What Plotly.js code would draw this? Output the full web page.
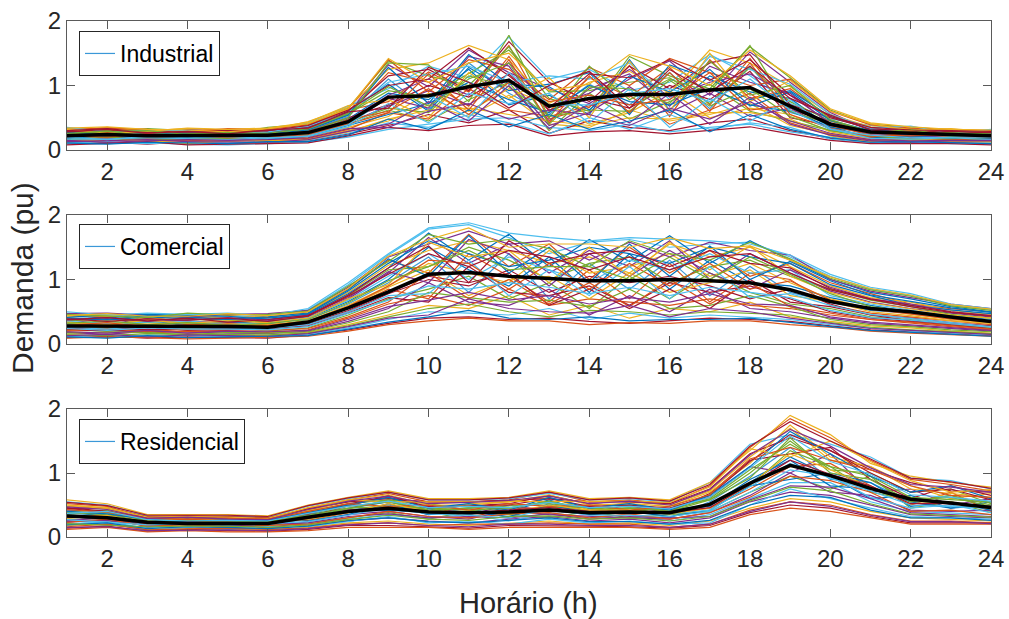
<!DOCTYPE html>
<html><head><meta charset="utf-8">
<script src="https://cdn.plot.ly/plotly-3.0.1.min.js"></script>
<style>html,body{margin:0;padding:0;background:#fff}#chart{width:1009px;height:619px}</style>
</head><body><div id="chart"></div>
<script>
const hours = [1,2,3,4,5,6,7,8,9,10,11,12,13,14,15,16,17,18,19,20,21,22,23,24];
const xTicks = [2,4,6,8,10,12,14,16,18,20,22,24];
const yTicks = [0,1,2];
const panelNames = ['Industrial','Comercial','Residencial'];

const indMean = [0.22,0.24,0.22,0.22,0.22,0.23,0.27,0.44,0.82,0.84,0.98,1.08,0.68,0.80,0.86,0.86,0.93,0.97,0.68,0.40,0.28,0.26,0.23,0.22];
const comMean = [0.28,0.28,0.27,0.27,0.27,0.26,0.34,0.56,0.81,1.08,1.11,1.05,1.02,0.98,0.98,1.00,0.98,0.95,0.84,0.66,0.55,0.50,0.42,0.35];
const resMean = [0.33,0.30,0.23,0.21,0.21,0.21,0.31,0.40,0.45,0.39,0.38,0.39,0.42,0.38,0.39,0.38,0.51,0.84,1.12,0.96,0.76,0.59,0.53,0.46];

const indLoads = [
[0.21,0.25,0.19,0.22,0.18,0.24,0.30,0.52,1.10,0.62,1.35,0.88,0.55,1.02,0.70,1.20,0.64,1.30,0.58,0.42,0.22,0.28,0.19,0.24],
[0.30,0.27,0.31,0.25,0.29,0.26,0.38,0.62,0.75,1.21,0.90,1.62,0.48,0.66,1.31,0.52,1.40,0.80,0.95,0.50,0.35,0.24,0.29,0.21],
[0.12,0.18,0.14,0.11,0.16,0.13,0.17,0.30,0.45,0.70,0.52,0.85,0.40,0.35,0.62,0.45,0.55,0.72,0.38,0.25,0.16,0.13,0.15,0.12],
[0.26,0.33,0.24,0.29,0.22,0.30,0.35,0.58,1.32,0.98,1.55,1.20,0.95,0.72,1.10,1.38,0.85,1.52,1.05,0.58,0.30,0.33,0.27,0.29],
[0.17,0.14,0.20,0.16,0.19,0.18,0.22,0.40,0.62,0.45,0.78,1.05,0.30,0.88,0.48,0.75,1.02,0.60,0.45,0.30,0.20,0.18,0.16,0.17],
[0.33,0.30,0.28,0.32,0.27,0.33,0.42,0.68,0.95,1.30,1.12,1.75,1.10,1.25,0.92,1.05,1.48,1.15,0.72,0.48,0.38,0.31,0.30,0.28],
[0.10,0.12,0.09,0.13,0.10,0.11,0.14,0.25,0.38,0.55,0.42,0.62,0.26,0.45,0.35,0.30,0.42,0.48,0.30,0.18,0.12,0.11,0.12,0.10],
[0.24,0.21,0.26,0.20,0.24,0.21,0.26,0.48,0.88,0.78,1.25,0.70,0.85,0.55,1.40,0.62,1.15,0.90,0.80,0.35,0.27,0.22,0.24,0.23],
[0.28,0.35,0.29,0.27,0.31,0.28,0.32,0.55,1.20,1.05,0.68,1.45,0.60,1.12,0.82,1.28,0.70,1.42,0.62,0.45,0.25,0.30,0.22,0.27],
[0.14,0.16,0.12,0.15,0.13,0.16,0.20,0.35,0.52,0.88,0.60,0.95,0.70,0.40,0.58,0.92,0.50,0.65,0.55,0.28,0.18,0.16,0.14,0.15],
[0.19,0.23,0.21,0.18,0.21,0.20,0.28,0.45,0.80,0.65,1.45,1.30,0.45,0.95,1.18,0.68,1.30,1.05,0.88,0.40,0.24,0.20,0.21,0.19],
[0.31,0.28,0.33,0.30,0.25,0.35,0.40,0.65,1.38,1.15,1.00,1.60,0.80,0.60,1.45,1.15,0.95,1.60,1.12,0.62,0.40,0.35,0.31,0.30],
[0.09,0.10,0.11,0.09,0.08,0.10,0.12,0.20,0.32,0.40,0.48,0.50,0.35,0.30,0.40,0.28,0.35,0.40,0.28,0.20,0.14,0.12,0.11,0.09],
[0.23,0.29,0.22,0.24,0.26,0.23,0.29,0.50,0.70,1.00,0.82,1.18,0.62,0.80,0.65,1.00,0.78,1.22,0.50,0.38,0.28,0.25,0.26,0.24],
[0.27,0.20,0.25,0.28,0.20,0.27,0.33,0.60,1.02,0.60,1.28,0.92,1.02,1.20,0.55,1.32,1.10,0.78,0.92,0.52,0.32,0.27,0.20,0.26],
[0.15,0.19,0.17,0.14,0.17,0.14,0.18,0.32,0.58,0.48,0.95,0.62,0.52,0.68,0.85,0.40,0.62,0.88,0.42,0.24,0.15,0.18,0.17,0.14],
[0.34,0.32,0.30,0.33,0.31,0.31,0.44,0.66,1.25,1.35,1.62,1.40,0.72,1.05,1.22,0.88,1.55,1.35,0.98,0.55,0.36,0.33,0.29,0.31],
[0.20,0.17,0.23,0.21,0.15,0.19,0.24,0.42,0.68,0.92,0.70,1.10,0.38,0.58,0.98,0.58,0.88,0.52,0.65,0.32,0.21,0.19,0.22,0.20],
[0.25,0.26,0.27,0.23,0.28,0.25,0.31,0.56,0.92,0.82,1.18,1.55,0.90,0.92,1.05,1.12,0.72,1.28,0.75,0.45,0.29,0.26,0.25,0.25],
[0.11,0.13,0.10,0.12,0.11,0.12,0.15,0.26,0.42,0.35,0.55,0.42,0.25,0.50,0.32,0.55,0.32,0.42,0.35,0.17,0.11,0.14,0.10,0.11],
[0.29,0.31,0.26,0.31,0.30,0.29,0.36,0.60,1.15,1.25,0.92,1.68,1.05,0.75,1.30,0.95,1.35,1.48,0.70,0.50,0.33,0.29,0.28,0.27],
[0.18,0.22,0.18,0.19,0.20,0.17,0.21,0.38,0.55,0.72,1.05,0.78,0.58,1.00,0.75,0.70,0.95,0.70,0.60,0.36,0.19,0.21,0.18,0.18],
[0.32,0.34,0.32,0.28,0.33,0.32,0.39,0.63,1.40,0.90,1.40,1.25,0.78,1.28,1.00,1.42,1.20,1.00,1.10,0.60,0.39,0.34,0.32,0.30],
[0.13,0.15,0.15,0.10,0.14,0.15,0.16,0.28,0.48,0.62,0.65,0.55,0.45,0.38,0.50,0.48,0.58,0.58,0.48,0.22,0.13,0.15,0.13,0.13],
[0.22,0.24,0.20,0.26,0.23,0.22,0.27,0.46,0.85,1.10,0.85,1.35,0.68,0.88,1.25,0.82,1.05,1.18,0.85,0.42,0.26,0.23,0.23,0.22],
[0.16,0.20,0.16,0.17,0.18,0.21,0.25,0.43,0.65,0.58,1.15,0.98,0.52,0.62,0.60,1.08,0.68,0.95,0.52,0.30,0.22,0.17,0.19,0.16],
[0.35,0.28,0.31,0.30,0.26,0.28,0.37,0.58,1.05,1.18,1.30,1.05,1.15,1.10,1.35,0.78,1.45,1.25,1.02,0.55,0.34,0.37,0.26,0.32],
[0.08,0.11,0.13,0.08,0.09,0.09,0.11,0.22,0.35,0.30,0.38,0.40,0.22,0.28,0.30,0.25,0.30,0.36,0.25,0.15,0.10,0.10,0.10,0.08],
[0.27,0.23,0.24,0.26,0.24,0.25,0.31,0.54,1.28,0.72,1.48,1.02,0.98,0.62,1.15,0.90,1.25,0.68,0.90,0.46,0.30,0.24,0.25,0.26],
[0.19,0.27,0.18,0.22,0.19,0.19,0.23,0.41,0.58,1.18,0.62,1.40,0.42,1.15,0.58,1.20,0.60,1.35,0.55,0.34,0.20,0.27,0.20,0.19],
[0.32,0.26,0.29,0.34,0.32,0.34,0.43,0.69,0.78,0.50,1.20,0.80,1.12,0.50,1.38,0.60,1.50,0.75,1.08,0.60,0.41,0.30,0.33,0.28],
[0.13,0.14,0.16,0.13,0.12,0.12,0.16,0.29,0.40,0.75,0.45,1.00,0.33,0.72,0.42,0.88,0.40,0.82,0.40,0.23,0.14,0.12,0.14,0.14],
[0.24,0.30,0.20,0.25,0.28,0.24,0.28,0.50,1.35,1.32,0.75,1.78,0.50,1.30,0.78,1.10,0.90,1.62,0.60,0.40,0.26,0.32,0.21,0.23],
[0.17,0.17,0.19,0.17,0.16,0.19,0.21,0.36,0.72,0.42,0.88,0.72,0.88,0.42,0.95,0.35,0.80,0.45,0.78,0.33,0.18,0.17,0.19,0.16],
[0.30,0.33,0.27,0.28,0.30,0.30,0.38,0.62,1.00,1.10,1.58,1.15,0.65,1.18,1.12,1.40,1.08,1.40,0.85,0.52,0.35,0.31,0.30,0.29],
[0.11,0.09,0.12,0.11,0.10,0.13,0.13,0.23,0.48,0.32,0.62,0.36,0.55,0.32,0.45,0.62,0.28,0.55,0.32,0.19,0.12,0.13,0.11,0.10],
[0.22,0.20,0.25,0.21,0.22,0.21,0.26,0.47,0.60,0.95,0.55,1.05,0.75,0.85,0.70,0.78,1.20,0.62,0.70,0.38,0.23,0.22,0.24,0.21],
[0.34,0.36,0.32,0.31,0.28,0.33,0.41,0.64,1.42,1.05,1.35,1.50,0.92,1.02,1.48,1.30,1.00,1.55,1.15,0.64,0.42,0.36,0.32,0.31],
[0.15,0.12,0.14,0.16,0.15,0.16,0.19,0.33,0.35,0.60,0.72,0.48,0.62,0.55,0.38,0.65,0.48,0.75,0.45,0.26,0.16,0.14,0.15,0.15],
[0.26,0.29,0.30,0.24,0.27,0.26,0.33,0.57,0.98,0.68,1.10,1.35,0.40,0.98,0.95,0.72,1.38,0.85,1.00,0.47,0.28,0.28,0.27,0.25],
[0.20,0.16,0.21,0.19,0.21,0.18,0.22,0.39,0.82,0.85,0.50,1.20,0.70,0.70,0.88,0.95,0.75,1.10,0.62,0.32,0.23,0.19,0.20,0.20],
[0.28,0.32,0.26,0.29,0.25,0.31,0.34,0.59,0.65,1.28,1.05,0.65,1.00,1.22,0.65,1.25,0.90,1.30,0.80,0.54,0.31,0.26,0.29,0.27]
];

const comLoads = [
[0.30,0.35,0.25,0.32,0.28,0.26,0.38,0.62,0.95,1.35,0.80,1.40,0.70,1.25,0.85,1.30,0.75,1.20,0.80,0.65,0.52,0.48,0.40,0.35],
[0.45,0.42,0.47,0.40,0.44,0.41,0.50,0.85,1.30,1.10,1.70,1.20,1.55,1.00,1.50,1.10,1.45,1.05,1.25,0.95,0.78,0.62,0.55,0.50],
[0.15,0.18,0.12,0.16,0.14,0.13,0.18,0.30,0.45,0.60,0.55,0.75,0.45,0.60,0.40,0.55,0.50,0.65,0.42,0.35,0.28,0.25,0.20,0.17],
[0.38,0.30,0.40,0.35,0.33,0.36,0.42,0.70,1.10,1.65,1.25,1.55,1.10,1.45,1.20,1.60,1.00,1.40,1.10,0.82,0.65,0.55,0.48,0.42],
[0.22,0.25,0.20,0.24,0.26,0.20,0.25,0.45,0.70,0.85,1.05,0.70,0.95,0.55,1.05,0.70,1.10,0.80,0.62,0.55,0.42,0.38,0.30,0.25],
[0.48,0.46,0.43,0.47,0.42,0.45,0.53,0.92,1.38,1.78,1.85,1.65,1.40,1.58,1.62,1.50,1.55,1.58,1.35,1.05,0.85,0.75,0.60,0.53],
[0.10,0.12,0.09,0.11,0.10,0.09,0.14,0.22,0.32,0.40,0.42,0.38,0.40,0.35,0.32,0.36,0.40,0.38,0.35,0.28,0.22,0.19,0.16,0.13],
[0.33,0.28,0.36,0.30,0.35,0.31,0.40,0.66,1.00,1.50,1.15,0.90,1.35,0.80,1.40,0.85,1.30,0.95,0.90,0.72,0.60,0.50,0.44,0.38],
[0.27,0.31,0.29,0.27,0.30,0.28,0.34,0.55,0.85,0.70,1.40,1.05,0.65,1.15,0.70,1.25,0.65,1.10,1.00,0.60,0.48,0.42,0.35,0.30],
[0.42,0.44,0.38,0.44,0.40,0.43,0.48,0.80,1.22,1.45,1.60,1.45,1.25,1.35,1.10,1.55,1.35,1.50,1.20,0.90,0.72,0.65,0.52,0.46],
[0.18,0.15,0.20,0.18,0.17,0.16,0.20,0.35,0.55,0.95,0.65,0.60,0.85,0.45,0.75,0.50,0.85,0.55,0.50,0.40,0.32,0.28,0.24,0.20],
[0.36,0.39,0.33,0.38,0.37,0.34,0.44,0.75,1.15,1.20,1.50,1.30,1.00,1.25,1.35,0.95,1.20,1.30,1.05,0.85,0.68,0.58,0.46,0.40],
[0.12,0.10,0.14,0.13,0.12,0.11,0.15,0.25,0.38,0.50,0.48,0.45,0.55,0.38,0.48,0.40,0.45,0.42,0.38,0.30,0.25,0.20,0.17,0.14],
[0.25,0.22,0.27,0.21,0.24,0.23,0.30,0.50,0.78,1.00,0.90,1.15,0.80,1.05,0.95,1.05,0.90,0.70,0.85,0.62,0.45,0.40,0.33,0.28],
[0.40,0.37,0.42,0.39,0.38,0.40,0.46,0.78,1.18,1.72,1.30,1.70,1.20,1.62,1.28,1.68,1.25,1.60,1.30,1.00,0.80,0.70,0.58,0.50],
[0.20,0.22,0.17,0.20,0.19,0.18,0.22,0.40,0.62,0.75,0.60,0.85,0.60,0.70,0.65,0.60,0.70,0.60,0.55,0.45,0.38,0.32,0.27,0.22],
[0.31,0.34,0.31,0.34,0.32,0.30,0.36,0.60,0.90,1.25,1.10,0.95,1.45,1.10,1.20,1.40,1.05,1.25,0.95,0.70,0.55,0.46,0.38,0.33],
[0.47,0.48,0.45,0.42,0.46,0.47,0.52,0.88,1.35,1.55,1.75,1.55,1.60,1.30,1.58,1.35,1.58,1.45,1.38,1.00,0.82,0.72,0.62,0.55],
[0.14,0.13,0.16,0.15,0.15,0.14,0.17,0.28,0.42,0.55,0.62,0.50,0.42,0.52,0.50,0.45,0.50,0.48,0.45,0.33,0.26,0.22,0.19,0.16],
[0.35,0.32,0.34,0.36,0.30,0.33,0.41,0.68,1.05,1.40,1.00,1.35,1.15,0.95,1.30,1.15,1.40,1.10,1.15,0.75,0.62,0.52,0.43,0.37],
[0.23,0.20,0.23,0.22,0.21,0.24,0.28,0.48,0.72,0.65,1.20,0.80,0.75,0.90,0.60,0.95,0.80,0.90,0.70,0.50,0.40,0.35,0.29,0.24],
[0.44,0.40,0.46,0.45,0.43,0.38,0.47,0.82,1.25,1.60,1.40,1.20,1.30,1.50,1.40,1.25,1.50,1.35,1.25,0.92,0.75,0.60,0.53,0.47],
[0.09,0.11,0.10,0.08,0.09,0.10,0.12,0.20,0.30,0.36,0.40,0.36,0.36,0.30,0.33,0.32,0.36,0.36,0.30,0.26,0.20,0.17,0.15,0.12],
[0.28,0.26,0.30,0.29,0.27,0.29,0.33,0.57,0.88,1.15,0.75,1.00,1.05,0.70,1.10,0.80,0.95,1.15,0.75,0.66,0.50,0.44,0.36,0.32],
[0.37,0.41,0.35,0.37,0.41,0.37,0.45,0.72,1.12,0.95,1.62,1.40,0.90,1.40,1.05,1.45,1.10,0.85,1.15,0.88,0.70,0.62,0.50,0.44],
[0.17,0.19,0.18,0.14,0.18,0.17,0.19,0.33,0.50,0.80,0.72,0.65,0.68,0.58,0.85,0.55,0.60,0.75,0.58,0.38,0.30,0.27,0.22,0.19],
[0.50,0.45,0.48,0.46,0.48,0.44,0.55,0.95,1.40,1.80,1.88,1.72,1.65,1.60,1.65,1.62,1.60,1.55,1.38,1.08,0.88,0.78,0.62,0.55],
[0.26,0.29,0.22,0.26,0.23,0.27,0.31,0.52,0.80,1.05,0.95,1.10,0.60,0.85,0.55,0.85,0.55,1.00,0.65,0.58,0.45,0.36,0.31,0.27],
[0.41,0.38,0.44,0.41,0.39,0.42,0.48,0.84,1.32,1.05,1.68,1.10,1.50,0.95,1.55,1.05,1.52,1.00,1.28,0.98,0.76,0.66,0.56,0.49],
[0.21,0.24,0.19,0.23,0.22,0.21,0.24,0.42,0.65,1.10,0.70,1.00,0.62,0.95,0.58,1.00,0.62,0.95,0.58,0.48,0.38,0.34,0.28,0.23],
[0.34,0.30,0.37,0.32,0.36,0.33,0.40,0.70,0.92,1.58,1.35,1.45,0.95,1.50,1.05,1.58,1.15,1.52,1.05,0.80,0.64,0.54,0.45,0.40],
[0.13,0.15,0.11,0.14,0.13,0.12,0.16,0.27,0.40,0.45,0.70,0.55,0.50,0.48,0.60,0.42,0.55,0.50,0.40,0.32,0.24,0.21,0.18,0.15],
[0.46,0.43,0.41,0.48,0.45,0.46,0.51,0.90,1.28,1.70,1.55,1.62,1.48,1.20,1.60,1.40,1.30,1.58,1.32,1.02,0.84,0.74,0.59,0.52],
[0.26,0.23,0.28,0.25,0.25,0.24,0.30,0.50,0.75,0.78,1.30,0.75,1.15,0.75,1.20,0.70,1.20,0.72,0.78,0.60,0.46,0.40,0.33,0.27],
[0.38,0.41,0.36,0.40,0.34,0.38,0.44,0.76,1.18,1.52,0.95,1.60,1.25,1.40,1.45,1.20,1.45,1.25,1.18,0.86,0.70,0.60,0.50,0.44],
[0.11,0.09,0.13,0.10,0.11,0.12,0.13,0.23,0.34,0.42,0.52,0.40,0.38,0.42,0.36,0.38,0.38,0.40,0.33,0.27,0.21,0.18,0.14,0.12],
[0.29,0.33,0.26,0.30,0.31,0.29,0.35,0.58,0.90,1.30,1.25,0.85,1.25,0.85,1.25,0.90,1.25,0.85,0.98,0.68,0.54,0.47,0.39,0.34],
[0.44,0.47,0.43,0.43,0.47,0.44,0.50,0.86,1.36,1.62,1.80,1.50,1.55,1.55,1.50,1.65,1.48,1.52,1.30,1.04,0.86,0.76,0.61,0.54],
[0.19,0.17,0.21,0.17,0.20,0.19,0.21,0.38,0.58,0.68,0.80,0.68,0.75,0.62,0.72,0.65,0.78,0.62,0.60,0.42,0.34,0.30,0.25,0.21],
[0.32,0.36,0.30,0.33,0.29,0.32,0.38,0.64,0.98,1.20,1.45,1.15,1.20,1.20,1.00,1.35,1.00,1.35,1.08,0.78,0.58,0.50,0.42,0.36],
[0.24,0.21,0.25,0.23,0.23,0.22,0.27,0.47,0.68,0.90,0.85,0.95,0.88,0.78,0.88,0.75,0.88,0.80,0.72,0.52,0.41,0.37,0.31,0.26],
[0.39,0.35,0.39,0.37,0.40,0.35,0.43,0.74,1.08,1.40,1.20,1.45,1.35,1.15,1.35,1.15,1.35,1.40,1.10,0.84,0.69,0.58,0.49,0.43]
];

const resLoads = [
[0.35,0.30,0.20,0.25,0.18,0.22,0.30,0.42,0.50,0.35,0.45,0.30,0.52,0.35,0.45,0.30,0.55,0.95,1.40,0.90,0.85,0.55,0.65,0.45],
[0.52,0.48,0.30,0.32,0.30,0.28,0.45,0.58,0.68,0.55,0.55,0.58,0.70,0.55,0.58,0.52,0.80,1.40,1.85,1.55,1.20,0.90,0.82,0.72],
[0.18,0.20,0.12,0.14,0.12,0.11,0.15,0.22,0.25,0.20,0.18,0.22,0.25,0.20,0.22,0.18,0.25,0.45,0.60,0.55,0.40,0.30,0.28,0.25],
[0.42,0.40,0.25,0.22,0.28,0.25,0.38,0.50,0.40,0.48,0.35,0.50,0.40,0.48,0.35,0.45,0.62,1.10,1.00,1.30,0.70,0.75,0.50,0.60],
[0.28,0.25,0.18,0.20,0.15,0.18,0.22,0.30,0.38,0.28,0.40,0.35,0.30,0.40,0.30,0.35,0.40,0.70,0.95,0.75,0.95,0.45,0.55,0.38],
[0.55,0.50,0.33,0.30,0.33,0.31,0.48,0.60,0.70,0.58,0.58,0.60,0.68,0.58,0.60,0.55,0.85,1.45,1.60,1.45,1.25,0.92,0.88,0.75],
[0.14,0.17,0.09,0.12,0.10,0.09,0.12,0.18,0.18,0.16,0.14,0.18,0.18,0.17,0.16,0.14,0.18,0.38,0.50,0.45,0.32,0.22,0.22,0.22],
[0.38,0.33,0.22,0.28,0.22,0.20,0.35,0.45,0.55,0.42,0.50,0.40,0.58,0.38,0.50,0.42,0.50,0.85,1.25,0.95,0.60,0.65,0.45,0.55],
[0.30,0.35,0.28,0.18,0.25,0.26,0.26,0.38,0.45,0.50,0.30,0.45,0.45,0.50,0.42,0.38,0.45,0.75,1.10,1.15,0.80,0.50,0.70,0.40],
[0.48,0.45,0.28,0.30,0.26,0.30,0.42,0.55,0.62,0.40,0.52,0.55,0.62,0.42,0.55,0.50,0.72,1.25,1.70,1.20,1.10,0.80,0.60,0.68],
[0.22,0.18,0.15,0.16,0.14,0.14,0.18,0.25,0.30,0.25,0.22,0.28,0.32,0.25,0.28,0.22,0.30,0.55,0.70,0.65,0.50,0.35,0.32,0.30],
[0.40,0.42,0.24,0.26,0.24,0.24,0.40,0.52,0.58,0.52,0.42,0.45,0.55,0.45,0.40,0.48,0.58,1.00,1.50,1.05,1.00,0.70,0.75,0.52],
[0.25,0.22,0.10,0.15,0.20,0.16,0.20,0.28,0.35,0.30,0.35,0.25,0.38,0.30,0.35,0.25,0.35,0.60,0.85,0.85,0.55,0.40,0.38,0.35],
[0.45,0.38,0.30,0.24,0.30,0.29,0.32,0.48,0.65,0.45,0.48,0.52,0.65,0.52,0.48,0.40,0.68,1.20,1.30,1.40,0.90,0.60,0.80,0.65],
[0.33,0.28,0.20,0.28,0.17,0.20,0.28,0.40,0.42,0.38,0.38,0.38,0.42,0.35,0.38,0.40,0.48,0.90,1.20,0.80,0.75,0.55,0.45,0.50],
[0.12,0.15,0.08,0.10,0.08,0.08,0.10,0.15,0.15,0.15,0.12,0.15,0.15,0.15,0.15,0.12,0.15,0.35,0.45,0.40,0.30,0.20,0.20,0.20],
[0.58,0.52,0.35,0.35,0.35,0.33,0.50,0.62,0.72,0.60,0.60,0.62,0.72,0.60,0.62,0.58,0.85,1.35,1.90,1.60,1.15,0.95,0.85,0.78],
[0.26,0.30,0.16,0.22,0.20,0.14,0.24,0.35,0.40,0.32,0.28,0.42,0.35,0.32,0.30,0.28,0.38,0.65,1.00,0.70,0.65,0.42,0.40,0.42],
[0.36,0.38,0.26,0.20,0.28,0.22,0.34,0.45,0.48,0.45,0.42,0.35,0.48,0.42,0.45,0.35,0.52,0.80,1.35,1.10,0.70,0.58,0.62,0.48],
[0.20,0.24,0.14,0.18,0.12,0.17,0.16,0.24,0.32,0.22,0.25,0.20,0.28,0.22,0.25,0.20,0.22,0.50,0.75,0.60,0.45,0.32,0.30,0.28],
[0.44,0.46,0.32,0.33,0.32,0.30,0.44,0.55,0.60,0.55,0.55,0.58,0.60,0.55,0.55,0.52,0.75,1.30,1.55,1.35,1.05,0.85,0.72,0.70],
[0.32,0.27,0.22,0.24,0.22,0.27,0.25,0.35,0.52,0.35,0.40,0.32,0.50,0.38,0.40,0.32,0.42,0.80,0.90,1.00,0.85,0.48,0.55,0.42],
[0.16,0.20,0.11,0.13,0.14,0.12,0.14,0.20,0.22,0.18,0.20,0.20,0.22,0.20,0.20,0.15,0.20,0.42,0.55,0.50,0.35,0.25,0.25,0.22],
[0.50,0.44,0.27,0.28,0.27,0.26,0.40,0.58,0.66,0.50,0.50,0.55,0.66,0.50,0.52,0.48,0.70,1.15,1.75,1.25,1.10,0.75,0.68,0.62],
[0.24,0.26,0.18,0.20,0.18,0.20,0.22,0.32,0.36,0.30,0.32,0.30,0.36,0.28,0.32,0.30,0.32,0.58,0.80,0.78,0.60,0.38,0.35,0.32],
[0.38,0.35,0.24,0.26,0.25,0.23,0.36,0.48,0.55,0.42,0.45,0.48,0.52,0.45,0.45,0.42,0.60,1.05,1.45,1.10,0.95,0.62,0.58,0.55],
[0.30,0.32,0.20,0.22,0.20,0.19,0.30,0.40,0.44,0.38,0.36,0.40,0.44,0.40,0.38,0.36,0.42,0.78,1.15,0.92,0.72,0.50,0.48,0.45],
[0.46,0.40,0.30,0.30,0.30,0.28,0.36,0.52,0.62,0.48,0.48,0.50,0.60,0.48,0.50,0.45,0.65,1.18,1.60,1.35,1.00,0.70,0.75,0.58],
[0.40,0.36,0.28,0.24,0.27,0.26,0.38,0.50,0.62,0.45,0.52,0.42,0.62,0.45,0.52,0.42,0.65,1.10,1.65,1.30,0.95,0.70,0.80,0.60],
[0.23,0.28,0.17,0.19,0.16,0.18,0.20,0.30,0.40,0.32,0.30,0.36,0.38,0.30,0.36,0.28,0.38,0.62,0.95,0.88,0.70,0.40,0.42,0.35],
[0.50,0.46,0.31,0.32,0.31,0.29,0.46,0.58,0.55,0.55,0.56,0.55,0.55,0.56,0.56,0.54,0.78,1.38,1.25,1.50,1.18,0.88,0.70,0.74],
[0.15,0.16,0.10,0.11,0.11,0.10,0.13,0.19,0.22,0.18,0.16,0.20,0.20,0.18,0.18,0.15,0.20,0.40,0.55,0.48,0.34,0.24,0.24,0.21],
[0.34,0.31,0.23,0.27,0.21,0.24,0.32,0.44,0.58,0.40,0.46,0.45,0.56,0.40,0.46,0.40,0.58,0.92,1.55,1.00,0.90,0.55,0.65,0.50],
[0.27,0.23,0.19,0.21,0.19,0.21,0.24,0.34,0.46,0.36,0.34,0.30,0.44,0.34,0.34,0.32,0.40,0.70,1.05,0.95,0.62,0.45,0.50,0.38],
[0.54,0.49,0.34,0.34,0.34,0.32,0.49,0.61,0.70,0.58,0.58,0.61,0.70,0.58,0.61,0.56,0.82,1.42,1.80,1.50,1.22,0.92,0.86,0.76],
[0.19,0.22,0.13,0.16,0.15,0.13,0.17,0.26,0.30,0.24,0.22,0.26,0.30,0.24,0.24,0.20,0.26,0.50,0.65,0.62,0.42,0.30,0.30,0.26],
[0.43,0.39,0.29,0.27,0.29,0.28,0.40,0.52,0.48,0.50,0.42,0.52,0.48,0.50,0.42,0.48,0.66,1.22,1.40,1.20,1.05,0.80,0.65,0.62],
[0.29,0.34,0.21,0.23,0.22,0.22,0.28,0.38,0.52,0.40,0.40,0.38,0.50,0.42,0.42,0.36,0.45,0.82,1.30,1.05,0.78,0.52,0.55,0.44],
[0.47,0.43,0.29,0.31,0.28,0.27,0.43,0.56,0.64,0.52,0.54,0.57,0.64,0.52,0.56,0.50,0.74,1.28,1.68,1.42,1.08,0.82,0.78,0.70],
[0.21,0.19,0.16,0.17,0.17,0.15,0.19,0.27,0.34,0.28,0.26,0.32,0.33,0.28,0.30,0.25,0.32,0.56,0.78,0.72,0.52,0.36,0.34,0.31],
[0.37,0.40,0.27,0.25,0.26,0.25,0.37,0.48,0.56,0.46,0.48,0.46,0.54,0.46,0.48,0.44,0.62,1.08,1.58,1.18,0.98,0.66,0.62,0.56],
[0.31,0.29,0.21,0.23,0.23,0.21,0.29,0.42,0.46,0.40,0.38,0.42,0.46,0.40,0.40,0.38,0.46,0.82,1.20,0.98,0.80,0.52,0.52,0.48]
];

const lineColors = ['#0072BD','#D95319','#EDB120','#7E2F8E','#77AC30','#4DBEEE','#A2142F'];
const legendBlue = '#3b98d8';
const FONT = 'Liberation Sans, Arial, Helvetica, sans-serif';
const TXT = '#262626';
const AX = '#5a5a5a';

const traces = [];
function addPanel(loads, mean, idx) {
  const xa = idx === 0 ? 'x' : 'x' + (idx + 1);
  const ya = idx === 0 ? 'y' : 'y' + (idx + 1);
  const lg = idx === 0 ? 'legend' : 'legend' + (idx + 1);
  loads.forEach((row, i) => {
    traces.push({
      x: hours, y: row, xaxis: xa, yaxis: ya, mode: 'lines', type: 'scatter',
      line: {color: i === 0 ? legendBlue : lineColors[i % 7], width: 1.2},
      name: panelNames[idx], showlegend: i === 0, legend: lg, hoverinfo: 'skip'
    });
  });
  traces.push({
    x: hours, y: mean, xaxis: xa, yaxis: ya, mode: 'lines', type: 'scatter',
    line: {color: '#000000', width: 3.5}, showlegend: false, hoverinfo: 'skip'
  });
}
addPanel(indLoads, indMean, 0);
addPanel(comLoads, comMean, 1);
addPanel(resLoads, resMean, 2);

const W = 1009, H = 619;
const xDom = [67 / W, 991 / W];
const panels = [[21, 150], [215, 344], [409, 537]];
function xAxis() {
  return {domain: xDom, range: [1, 24], tickvals: xTicks, ticktext: xTicks.map(String),
    ticks: 'inside', ticklen: 8, tickwidth: 1, tickcolor: AX, showline: true, linecolor: AX,
    linewidth: 1, mirror: 'ticks', showgrid: false, zeroline: false,
    tickfont: {family: FONT, size: 24, color: TXT}, fixedrange: true};
}
function yAxis(p) {
  return {domain: [1 - p[1] / H, 1 - p[0] / H], range: [0, 2], tickvals: yTicks,
    ticks: 'inside', ticklen: 8, tickwidth: 1, tickcolor: AX, showline: true, linecolor: AX,
    linewidth: 1, mirror: 'ticks', showgrid: false, zeroline: false,
    tickfont: {family: FONT, size: 24, color: TXT}, fixedrange: true};
}
function legendAt(topPx) {
  return {x: 79 / W, y: 1 - topPx / H, xanchor: 'left', yanchor: 'top', bgcolor: '#ffffff',
    bordercolor: '#262626', borderwidth: 1, font: {family: FONT, size: 23, color: '#000'},
    itemwidth: 30};
}

const layout = {
  width: W, height: H, margin: {l: 0, r: 0, t: 0, b: 0},
  paper_bgcolor: '#ffffff', plot_bgcolor: '#ffffff', showlegend: true,
  xaxis: xAxis(), yaxis: Object.assign(yAxis(panels[0]), {anchor: 'x'}),
  xaxis2: Object.assign(xAxis(), {anchor: 'y2'}), yaxis2: Object.assign(yAxis(panels[1]), {anchor: 'x2'}),
  xaxis3: Object.assign(xAxis(), {anchor: 'y3'}), yaxis3: Object.assign(yAxis(panels[2]), {anchor: 'x3'}),
  legend: legendAt(31), legend2: legendAt(224), legend3: legendAt(419),
  annotations: [
    {text: 'Horário (h)', xref: 'paper', yref: 'paper', x: 528 / W, y: 1 - 603 / H,
     xanchor: 'center', yanchor: 'middle', showarrow: false, font: {family: FONT, size: 29, color: TXT}},
    {text: 'Demanda (pu)', xref: 'paper', yref: 'paper', x: 22 / W, y: 1 - 278 / H,
     xanchor: 'center', yanchor: 'middle', textangle: -90, showarrow: false, font: {family: FONT, size: 30, color: TXT}}
  ]
};
Plotly.newPlot('chart', traces, layout, {displayModeBar: false, staticPlot: true});
</script>
</body></html>
